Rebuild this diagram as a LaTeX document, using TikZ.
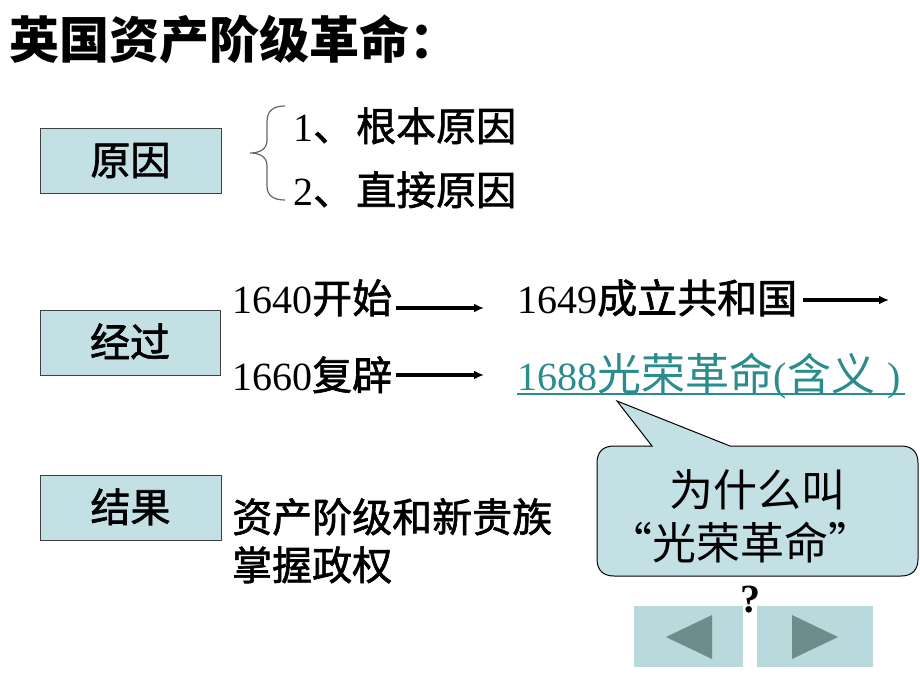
\documentclass[tikz,border=0pt]{standalone}
\usepackage{fontspec}
\usepackage{graphicx}
\setmainfont{Liberation Serif}
\newfontfamily\cjk{Noto Sans CJK SC}
\newfontfamily\cjkm[FakeBold=1.6]{Noto Sans CJK SC}
\usetikzlibrary{arrows.meta}
\definecolor{boxfill}{HTML}{C3E1E4}
\definecolor{btnfill}{HTML}{BAD9DD}
\definecolor{tri}{HTML}{6F8C8C}
\definecolor{teal}{HTML}{2A8C8C}
\definecolor{edge}{HTML}{404040}
\newcommand{\fs}[1]{\fontsize{#1}{#1}\selectfont}
\tikzset{
  labbox/.style={draw=edge, line width=1pt, fill=boxfill},
  boxtext/.style={anchor=base, inner sep=0pt, font=\cjkm\fs{40}},
  body/.style={anchor=base west, inner sep=0pt, font=\fs{40}},
  arr/.style={line width=3.2pt, -{Latex[length=10pt,width=9pt]}},
  btn/.style={fill=btnfill, draw=none},
  tri/.style={fill=tri, draw=none}
}
\begin{document}
\begin{tikzpicture}[x=1pt,y=-1pt]
\useasboundingbox[fill=white] (0,0) rectangle (920,690);
% title
\node[anchor=base west, inner sep=0pt, font=\cjk\bfseries\fs{50}] (title) at (9,59) {英国资产阶级革命：};
% boxes
\draw[labbox] (40,128) rectangle (221,193);
\node[boxtext] (yuanyin) at (130.5,175) {原因};
\draw[labbox] (40,310) rectangle (220,375);
\node[boxtext] (jingguo) at (130,357) {经过};
\draw[labbox] (40,475) rectangle (221,540);
\node[boxtext] (jieguo) at (130.5,522) {结果};
% brace
\draw[draw=edge!80, line width=1.2pt]
  (285,106) .. controls (274,106) and (267,110) .. (267,122)
  -- (267,140) .. controls (267,149) and (260,153) .. (250,153)
  .. controls (260,153) and (267,157) .. (267,166)
  -- (267,186) .. controls (267,196) and (274,200) .. (285,200);
\node[body] (r1) at (293,141) {1{\cjkm\fs{40}、\hspace{3pt}根本原因}};
\node[body] (r2) at (293,205) {2{\cjkm\fs{40}、\hspace{3pt}直接原因}};
% process
\node[body] (e1640) at (232,313) {1640{\cjkm\fs{40}开始}};
\node[body] (e1649) at (517,313) {1649{\cjkm\fs{40}成立共和国}};
\node[body] (e1660) at (232,390) {1660{\cjkm\fs{40}复辟}};
\node[body, text=teal] (e1688) at (517,390) {1688{\cjk\fs{44}光荣革命}(\hspace{1pt}{\cjk\fs{44}含义}\hspace{12pt})};
\draw[teal, line width=2.2pt] (e1688.base west) ++(0,4) coordinate (ul1) -- (905,394) coordinate (ul2);
\coordinate (a1s) at (396,308); \coordinate (a1e) at (484,308);
\coordinate (a2s) at (803,300); \coordinate (a2e) at (889,300);
\coordinate (a3s) at (396,375); \coordinate (a3e) at (484,375);
\draw[arr] (a1s) -- (a1e);
\draw[arr] (a2s) -- (a2e);
\draw[arr] (a3s) -- (a3e);
% result
\node[body] (res1) at (232,532) {\cjkm\fs{40}资产阶级和新贵族};
\node[body] (res2) at (232,580) {\cjkm\fs{40}掌握政权};
% callout
\draw[draw=black, line width=1pt, fill=boxfill]
  (652,446) -- (617,401) -- (730,446) -- (901,446)
  .. controls (912,446) and (918,452) .. (918,463)
  -- (918,559) .. controls (918,570) and (912,576) .. (901,576)
  -- (614,576) .. controls (603,576) and (597,570) .. (597,559)
  -- (597,463) .. controls (597,452) and (603,446) .. (614,446) -- cycle;
\node[anchor=base, inner sep=0pt, font=\cjk\fs{44}] (q1) at (757,506) {为什么叫};
\node[anchor=base, inner sep=0pt, font=\cjk\fs{44}] (q2) at (740,559) {“光荣革命”};
\node[anchor=base, inner sep=0pt, font=\bfseries\fs{40}] (qm) at (750,612) {?};
% nav buttons
\fill[btn] (634,606) rectangle (743,667);
\fill[btn] (757,606) rectangle (873,667);
\fill[tri] (666,637) -- (712,615) -- (712,659) -- cycle;
\fill[tri] (838,637) -- (792,615) -- (792,659) -- cycle;
\end{tikzpicture}
\end{document}
